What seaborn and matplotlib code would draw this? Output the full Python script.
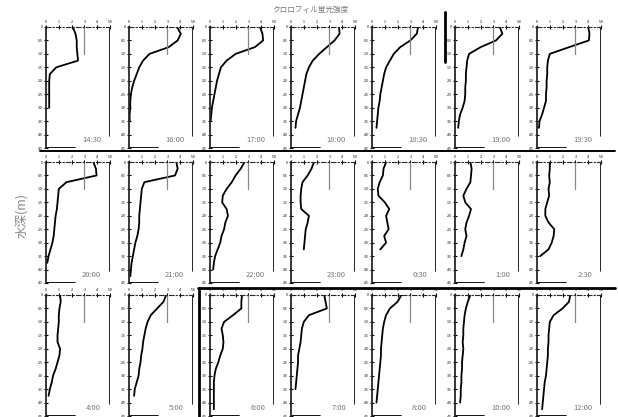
import seaborn as sns
import pandas as pd
import matplotlib.pyplot as plt
from matplotlib.lines import Line2D
import numpy as np

sns.set_theme(context='paper', style='ticks')
plt.rcParams['font.family'] = ['Noto Sans CJK JP', 'DejaVu Sans']

# depth grid of the profiles (m)
depth_m = [0, 0.25, 0.5, 0.75, 1.0, 1.25, 1.5, 1.75, 2.0,
           2.25, 2.5, 2.75, 3.0, 3.25, 3.5, 3.75, 4.0, 4.25]

times = ['14:30', '16:00', '17:00', '18:00', '18:30', '19:00', '19:30',
         '20:00', '21:00', '22:00', '23:00', '0:30', '1:00', '2:30',
         '4:00', '5:00', '6:00', '7:00', '8:00', '10:00', '12:00']

# chlorophyll fluorescence (one value per depth, shorter = cast ended)
p1430 = [2.1, 2.3, 2.4, 2.4, 2.45, 2.5, 0.8, 0.3, 0.25, 0.25, 0.25, 0.25, 0.25]
p1600 = [3.75, 4.05, 3.8, 3.1, 1.6, 1.1, 0.8, 0.6, 0.4, 0.25, 0.15, 0.1, 0.1, 0.05, 0.05]
p1700 = [3.9, 4.1, 4.15, 3.5, 2.0, 1.3, 0.85, 0.7, 0.55, 0.45, 0.35, 0.25, 0.15, 0.1, 0.05]
p1800 = [3.75, 3.8, 3.4, 2.8, 2.2, 1.7, 1.4, 1.2, 1.1, 1.0, 0.9, 0.8, 0.7, 0.55, 0.4, 0.35]
p1830 = [3.6, 3.5, 3.0, 2.2, 1.7, 1.4, 1.1, 0.95, 0.85, 0.75, 0.65, 0.6, 0.5, 0.45, 0.4, 0.35]
p1900 = [3.5, 3.7, 3.2, 2.0, 1.1, 0.95, 0.9, 0.85, 0.85, 0.8, 0.8, 0.75, 0.6, 0.4, 0.3, 0.25]
p1930 = [4.0, 4.1, 4.05, 2.5, 1.0, 0.85, 0.8, 0.8, 0.75, 0.75, 0.7, 0.7, 0.55, 0.4, 0.2, 0.15]
p2000 = [3.7, 3.9, 3.95, 1.6, 1.0, 0.95, 0.9, 0.85, 0.75, 0.7, 0.65, 0.6, 0.5, 0.35, 0.2, 0.1]
p2100 = [3.7, 3.8, 3.6, 1.2, 1.0, 0.95, 0.9, 0.85, 0.8, 0.8, 0.75, 0.65, 0.5, 0.4, 0.3, 0.2, 0.15, 0.1]
p2200 = [2.7, 2.4, 2.0, 1.7, 1.3, 1.0, 0.95, 1.3, 1.4, 1.2, 1.1, 0.9, 0.8, 0.6, 0.4, 0.3, 0.25]
p2300 = [1.8, 1.6, 1.3, 0.9, 0.8, 0.75, 0.75, 0.8, 1.4, 1.3, 1.15, 1.1, 1.05, 1.0]
p0030 = [1.1, 0.9, 0.85, 0.6, 0.45, 0.5, 1.0, 1.35, 1.1, 1.2, 1.3, 0.95, 1.1, 0.65]
p0100 = [1.2, 1.3, 1.25, 1.2, 0.9, 0.65, 0.8, 1.25, 1.1, 0.9, 0.8, 0.9, 0.75, 0.65, 0.5]
p0230 = [1.0, 1.0, 0.95, 1.0, 0.9, 0.95, 0.8, 0.65, 0.65, 0.9, 1.35, 1.3, 1.15, 0.9, 0.25]
p0400 = [1.1, 1.15, 1.05, 1.0, 1.0, 0.95, 0.9, 0.9, 1.1, 1.05, 0.9, 0.75, 0.55, 0.45, 0.3, 0.2]
p0500 = [2.9, 2.7, 2.2, 1.7, 1.45, 1.3, 1.2, 1.1, 1.05, 0.95, 0.9, 0.8, 0.75, 0.6, 0.45, 0.4]
p0600 = [2.5, 2.45, 2.45, 1.8, 1.1, 0.9, 1.0, 1.05, 1.0, 0.8, 0.65, 0.45, 0.35, 0.3, 0.3, 0.3, 0.3, 0.3]
p0700 = [2.6, 2.7, 2.8, 1.4, 1.0, 0.85, 0.8, 0.75, 0.65, 0.55, 0.55, 0.5, 0.45, 0.4, 0.35]
p0800 = [2.3, 2.0, 1.4, 1.1, 0.95, 0.85, 0.8, 0.75, 0.7, 0.7, 0.65, 0.6, 0.55, 0.5, 0.45, 0.4, 0.35]
p1000 = [1.2, 1.0, 0.85, 0.75, 0.7, 0.65, 0.65, 0.6, 0.65, 0.6, 0.55, 0.55, 0.5, 0.5, 0.45, 0.45, 0.4]
p1200 = [2.6, 2.5, 2.0, 1.3, 1.0, 0.95, 0.9, 0.9, 0.85, 0.85, 0.8, 0.75, 0.7, 0.6, 0.55, 0.5, 0.45, 0.4]

profiles = [p1430, p1600, p1700, p1800, p1830, p1900, p1930,
            p2000, p2100, p2200, p2300, p0030, p0100, p0230,
            p0400, p0500, p0600, p0700, p0800, p1000, p1200]

x_ticks = [0, 1, 2, 3, 4, 5]
y_ticks = [0, 0.5, 1.0, 1.5, 2.0, 2.5, 3.0, 3.5, 4.0, 4.5]

rows = []
for t, vals in zip(times, profiles):
    for d, v in zip(depth_m, vals):
        rows.append({'time': t, 'depth': d, 'chl': v})
df = pd.DataFrame(rows)

W, H = 618, 417
fig = plt.figure(figsize=(W / 100, H / 100), dpi=100)

col_left = [46, 129, 210, 291, 372, 455, 537]
row_top = [27, 162, 295]
aw, ah = 64, 121

for i, t in enumerate(times):
    r, c = divmod(i, 7)
    ax = fig.add_axes([col_left[c] / W, 1 - (row_top[r] + ah) / H, aw / W, ah / H])
    sub = df[df['time'] == t]
    sns.lineplot(data=sub, x='chl', y='depth', sort=False, estimator=None,
                 color='black', lw=1.3, ax=ax)
    ax.set_xlim(0, 5)
    ax.set_ylim(4.5, 0)
    ax.set_xlabel('')
    ax.set_ylabel('')
    ax.set_xticks(x_ticks)
    ax.set_xticklabels([str(v) for v in x_ticks[:-1]] + ['5.0'])
    ax.set_yticks(y_ticks)
    ax.set_yticklabels(['0'] + [f'{v:.1f}' for v in y_ticks[1:]])
    ax.xaxis.tick_top()
    ax.tick_params(axis='both', direction='inout', length=2.5, width=0.8,
                   labelsize=2.5, pad=1, colors='black')
    ax.patch.set_alpha(0)
    for s in ['right', 'bottom']:
        ax.spines[s].set_visible(False)
    ax.spines['left'].set_linewidth(1.3)
    ax.spines['top'].set_linewidth(0.8)
    ax.spines['top'].set_linestyle((0, (4, 2, 1, 2)))
    # right frame line, partial bottom line and reference mark at 3
    ax.axvline(5, ymin=0.1, ymax=1, color='black', lw=1.2)
    ax.axhline(4.5, xmin=0, xmax=0.45, color='black', lw=1.3)
    ax.axvline(3, ymin=0.78, ymax=1, color='#888888', lw=0.9)
    ax.text(0.86, 0.03, t, transform=ax.transAxes, ha='right', va='bottom',
            fontsize=5.5, color='#777777')

fig.text(310 / W, 1 - 10 / H, 'クロロフィル蛍光強度', ha='center', va='center',
         fontsize=5.5, color='#777777')
fig.text(22 / W, 1 - 215 / H, '水深(m)', ha='center', va='center',
         rotation=90, fontsize=9, color='#888888')

# heavy frame lines left over from the original scan
def fig_line(x0, y0, x1, y1, lw):
    fig.add_artist(Line2D([x0 / W, x1 / W], [1 - y0 / H, 1 - y1 / H],
                          color='black', lw=lw, transform=fig.transFigure))

fig_line(40, 151, 615, 151, 1.4)
fig_line(198, 288, 615, 288, 2.0)
fig_line(199, 288, 199, 417, 2.0)
fig_line(445, 12, 445, 62, 2.0)

fig.savefig('out.png', dpi=100)
